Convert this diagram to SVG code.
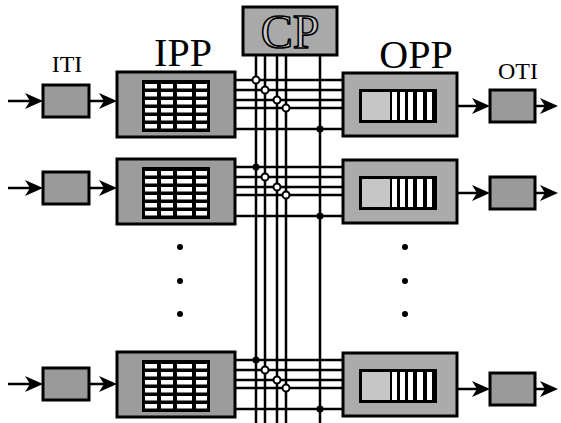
<svg xmlns="http://www.w3.org/2000/svg" xmlns:xlink="http://www.w3.org/1999/xlink" width="561" height="423" viewBox="0 0 561 423">
<style>
.box{stroke:#000;stroke-width:3}
.term{fill:#9a9a9a}
.ipp{fill:#9c9c9c}
.opp{fill:#ababab}
.cp{fill:#a9a9a9}
.ln{stroke:#000;stroke-width:2.5;fill:none}
.hj{fill:#fff;stroke:#000;stroke-width:2}
.sj{fill:#000}
.lbl{font-family:"Liberation Serif","Times New Roman",serif;fill:#000;text-anchor:middle}
.cpt{fill:#c8c8c8;stroke:#000;stroke-width:1.6}
</style>
<defs>
<marker id="ah" markerUnits="userSpaceOnUse" viewBox="0 0 18 16" refX="10" refY="8" markerWidth="18" markerHeight="16" orient="auto">
<path d="M0,0 L18,8 L0,16 L5,8 Z" fill="#000"/>
</marker>
<g id="ippGrid">
<rect x="25" y="8" width="68" height="52" fill="#000"/>
<g fill="#fff">
<rect x="28" y="12" width="12" height="4.5"/><rect x="44" y="12" width="12" height="4.5"/><rect x="60" y="12" width="15" height="4.5"/><rect x="79" y="12" width="11" height="4.5"/>
<rect x="28" y="20" width="12" height="4.5"/><rect x="44" y="20" width="12" height="4.5"/><rect x="60" y="20" width="15" height="4.5"/><rect x="79" y="20" width="11" height="4.5"/>
<rect x="28" y="28" width="12" height="4.5"/><rect x="44" y="28" width="12" height="4.5"/><rect x="60" y="28" width="15" height="4.5"/><rect x="79" y="28" width="11" height="4.5"/>
<rect x="28" y="36" width="12" height="4.5"/><rect x="44" y="36" width="12" height="4.5"/><rect x="60" y="36" width="15" height="4.5"/><rect x="79" y="36" width="11" height="4.5"/>
<rect x="28" y="44" width="12" height="4.5"/><rect x="44" y="44" width="12" height="4.5"/><rect x="60" y="44" width="15" height="4.5"/><rect x="79" y="44" width="11" height="4.5"/>
<rect x="28" y="52" width="12" height="4.5"/><rect x="44" y="52" width="12" height="4.5"/><rect x="60" y="52" width="15" height="4.5"/><rect x="79" y="52" width="11" height="4.5"/>
</g>
</g>
<g id="oppInner">
<rect x="16" y="16" width="78" height="34" fill="#000"/>
<rect x="19" y="19" width="28" height="28" fill="#c6c6c6"/>
<g fill="#fff">
<rect x="49" y="19" width="5" height="28"/><rect x="57" y="19" width="5" height="28"/><rect x="65" y="19" width="5" height="28"/><rect x="74" y="19" width="6" height="28"/><rect x="84" y="19" width="5" height="28"/>
</g>
</g>
</defs>
<rect width="561" height="423" fill="#fff"/>

<g id="labels">
<text class="lbl" x="67" y="72" font-size="24">ITI</text>
<text class="lbl" x="183" y="66" font-size="40">IPP</text>
<text class="lbl" x="416" y="68" font-size="40">OPP</text>
<text class="lbl" x="518" y="79" font-size="24">OTI</text>
</g>

<g id="connectors">
<g id="bus-vertical">
<line class="ln" x1="256" y1="55" x2="256" y2="423"/>
<line class="ln" x1="265" y1="55" x2="265" y2="423"/>
<line class="ln" x1="277" y1="55" x2="277" y2="423"/>
<line class="ln" x1="286" y1="55" x2="286" y2="423"/>
<line class="ln" x1="320" y1="55" x2="320" y2="423"/>
</g>
<g id="bus-row1">
<line class="ln" x1="236" y1="80" x2="342" y2="80"/>
<line class="ln" x1="236" y1="90" x2="342" y2="90"/>
<line class="ln" x1="236" y1="100" x2="342" y2="100"/>
<line class="ln" x1="236" y1="108" x2="342" y2="108"/>
<line class="ln" x1="236" y1="129" x2="342" y2="129"/>
</g>
<g id="bus-row2">
<line class="ln" x1="236" y1="167" x2="342" y2="167"/>
<line class="ln" x1="236" y1="177" x2="342" y2="177"/>
<line class="ln" x1="236" y1="187" x2="342" y2="187"/>
<line class="ln" x1="236" y1="195" x2="342" y2="195"/>
<line class="ln" x1="236" y1="216" x2="342" y2="216"/>
</g>
<g id="bus-row3">
<line class="ln" x1="236" y1="360" x2="342" y2="360"/>
<line class="ln" x1="236" y1="370" x2="342" y2="370"/>
<line class="ln" x1="236" y1="380" x2="342" y2="380"/>
<line class="ln" x1="236" y1="388" x2="342" y2="388"/>
<line class="ln" x1="236" y1="409" x2="342" y2="409"/>
</g>
<g id="junctions">
<circle class="hj" cx="256" cy="80" r="3.5"/><circle class="hj" cx="265" cy="90" r="3.5"/><circle class="hj" cx="277" cy="100" r="3.5"/><circle class="hj" cx="286" cy="108" r="3.5"/><circle class="sj" cx="320" cy="129" r="3.5"/>
<circle class="sj" cx="256" cy="167" r="3.5"/><circle class="hj" cx="265" cy="177" r="3.5"/><circle class="hj" cx="277" cy="187" r="3.5"/><circle class="hj" cx="286" cy="195" r="3.5"/><circle class="sj" cx="320" cy="216" r="3.5"/>
<circle class="sj" cx="256" cy="360" r="3.5"/><circle class="hj" cx="265" cy="370" r="3.5"/><circle class="hj" cx="277" cy="380" r="3.5"/><circle class="hj" cx="286" cy="388" r="3.5"/><circle class="sj" cx="320" cy="409" r="3.5"/>
</g>
<g id="arrows">
<line class="ln" x1="8" y1="101" x2="35" y2="101" marker-end="url(#ah)"/>
<line class="ln" x1="89" y1="101" x2="109" y2="101" marker-end="url(#ah)"/>
<line class="ln" x1="457" y1="106" x2="482" y2="106" marker-end="url(#ah)"/>
<line class="ln" x1="535" y1="106" x2="550" y2="106" marker-end="url(#ah)"/>
<line class="ln" x1="8" y1="188" x2="35" y2="188" marker-end="url(#ah)"/>
<line class="ln" x1="89" y1="188" x2="109" y2="188" marker-end="url(#ah)"/>
<line class="ln" x1="457" y1="193" x2="482" y2="193" marker-end="url(#ah)"/>
<line class="ln" x1="535" y1="193" x2="550" y2="193" marker-end="url(#ah)"/>
<line class="ln" x1="8" y1="384" x2="35" y2="384" marker-end="url(#ah)"/>
<line class="ln" x1="89" y1="384" x2="109" y2="384" marker-end="url(#ah)"/>
<line class="ln" x1="457" y1="389" x2="482" y2="389" marker-end="url(#ah)"/>
<line class="ln" x1="535" y1="389" x2="550" y2="389" marker-end="url(#ah)"/>
</g>
</g>

<g id="cp">
<rect class="box cp" x="243" y="7" width="94" height="48"/>
<text class="lbl cpt" x="290" y="48" font-size="48">CP</text>
</g>

<g id="iti1"><rect class="box term" x="43" y="85" width="46" height="32"/></g>
<g id="ipp1"><rect class="box ipp" x="117" y="72" width="118" height="65"/><use xlink:href="#ippGrid" x="117" y="72"/></g>
<g id="opp1"><rect class="box opp" x="343" y="73" width="114" height="63"/><use xlink:href="#oppInner" x="343" y="73"/></g>
<g id="oti1"><rect class="box term" x="490" y="90" width="45" height="32"/></g>

<g id="iti2"><rect class="box term" x="43" y="172" width="46" height="32"/></g>
<g id="ipp2"><rect class="box ipp" x="117" y="159" width="118" height="65"/><use xlink:href="#ippGrid" x="117" y="159"/></g>
<g id="opp2"><rect class="box opp" x="343" y="160" width="114" height="63"/><use xlink:href="#oppInner" x="343" y="160"/></g>
<g id="oti2"><rect class="box term" x="490" y="177" width="45" height="32"/></g>

<g id="iti3"><rect class="box term" x="43" y="368" width="46" height="32"/></g>
<g id="ipp3"><rect class="box ipp" x="117" y="352" width="118" height="65"/><use xlink:href="#ippGrid" x="117" y="352"/></g>
<g id="opp3"><rect class="box opp" x="343" y="353" width="114" height="63"/><use xlink:href="#oppInner" x="343" y="353"/></g>
<g id="oti3"><rect class="box term" x="490" y="373" width="45" height="32"/></g>

<g id="ellipsis" fill="#000">
<circle cx="180" cy="247" r="3"/><circle cx="180" cy="281" r="3"/><circle cx="180" cy="314" r="3"/>
<circle cx="405" cy="247" r="3"/><circle cx="405" cy="281" r="3"/><circle cx="405" cy="314" r="3"/>
</g>
</svg>
